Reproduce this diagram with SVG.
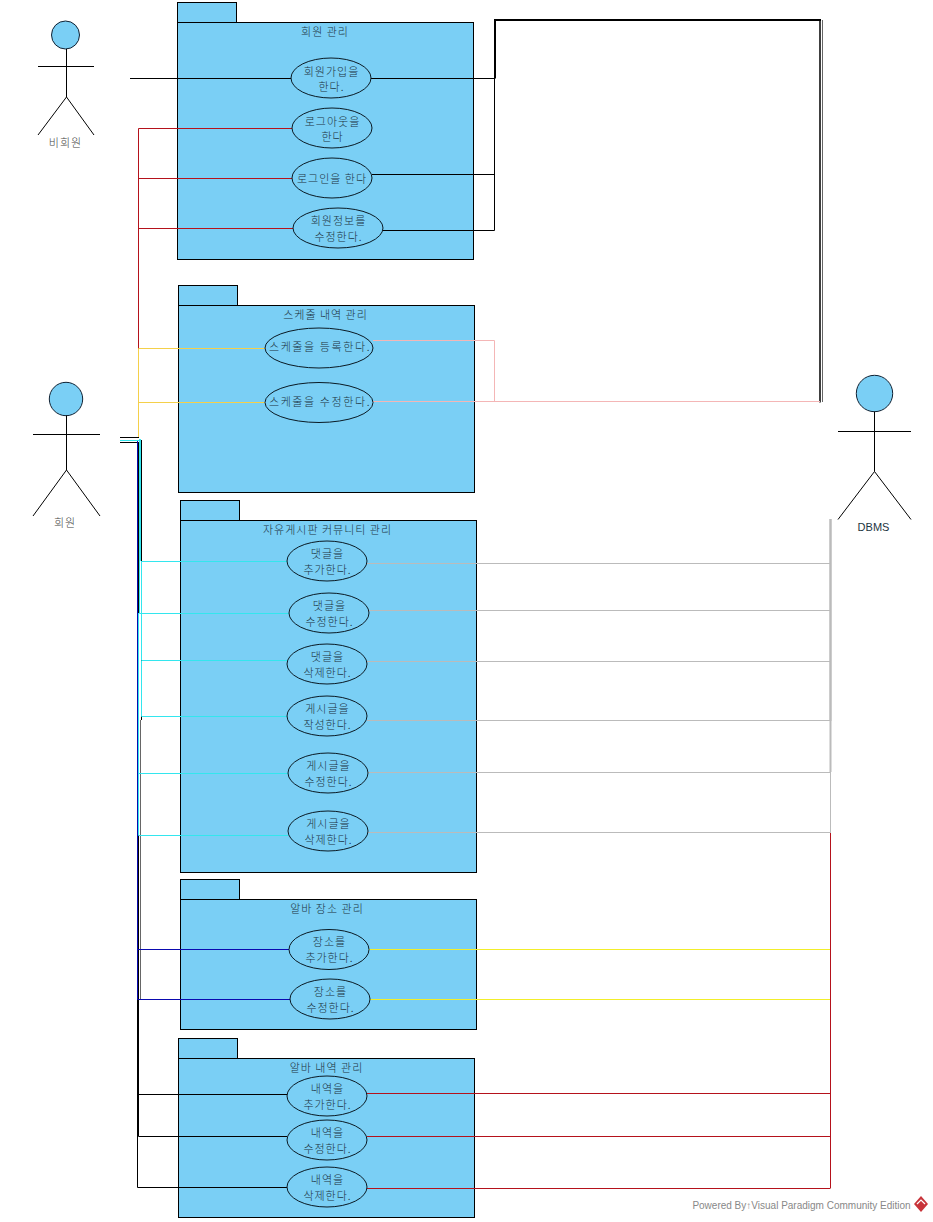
<svg xmlns="http://www.w3.org/2000/svg" width="933" height="1222" viewBox="0 0 933 1222">
<style>
text{font-family:"Noto Sans CJK KR","Liberation Sans",sans-serif;font-size:11px;font-weight:300;fill:#1c3442;text-anchor:middle;letter-spacing:1px}
.p{fill:#7ACFF5;stroke:#000;stroke-width:1}
.u{fill:#7ACFF5;stroke:#0a1a24;stroke-width:1}
.a{fill:none;stroke:#000;stroke-width:1}
.h{fill:#7ACFF5;stroke:#123;stroke-width:1}
.c{fill:none;stroke-width:1}
.k{stroke:#000}.r{stroke:#b5121b}.y{stroke:#f5d04a}.q{stroke:#f4b6b6}.t{stroke:#33e6ee}.g{stroke:#bbb}.b{stroke:#0a0ab0}.l{stroke:#f2ee2a}
.w{letter-spacing:1.6px}
.n{letter-spacing:0;font-family:"Liberation Sans",sans-serif}
.o{fill:#444}
</style>
<rect width="933" height="1222" fill="#fff"/>
<g id="pkg1"><rect class="p" x="177.500" y="2.500" width="59" height="20"/><rect class="p" x="177.500" y="22.500" width="296" height="237"/><text x="325" y="35.500">회원 관리</text></g>
<g id="pkg2"><rect class="p" x="178.500" y="285.500" width="59" height="20"/><rect class="p" x="178.500" y="305.500" width="296" height="187"/><text x="325.500" y="318.500">스케줄 내역 관리</text></g>
<g id="pkg3"><rect class="p" x="180.500" y="500.500" width="59" height="20"/><rect class="p" x="180.500" y="520.500" width="296" height="352"/><text x="327.500" y="533.500">자유게시판 커뮤니티 관리</text></g>
<g id="pkg4"><rect class="p" x="180.500" y="879.500" width="59" height="20"/><rect class="p" x="180.500" y="899.500" width="296" height="130"/><text x="327" y="912.500">알바 장소 관리</text></g>
<g id="pkg5"><rect class="p" x="178.500" y="1038.500" width="59" height="20"/><rect class="p" x="178.500" y="1058.500" width="296" height="159"/><text x="326.500" y="1071.500">알바 내역 관리</text></g>
<g id="connectors">
<path class="c k" d="M130 78.500H291"/>
<path class="c r" d="M138.500 437V128.500H292M138.500 178.500H292M138.500 228.500H293"/>
<path class="c y" d="M138.500 437V348.500H265M138.500 402.500H265"/>
<path class="c k" d="M120 437.500H139M120 442.500H139"/>
<path class="c k" d="M141.500 440V720"/>
<path class="c" stroke="#666" d="M140.500 720V1000"/>
<path class="c k" d="M138.500 442V1136.500H287M138.500 1094.500H287"/>
<path class="c k" d="M137.500 999V1187.500H287"/>
<path class="c b" d="M137.500 440V999.500H290M137.500 949.500H289"/>
<path class="t" fill="none" stroke-width="2" d="M140 439V561"/>
<path class="c t" d="M120 440.500H140M141.500 561.500H287M139.500 500V613.500H289M141.500 561V660.500H287M138.500 613V680M141.500 661V716.500H287M138.500 680V835.500H288M138.500 773.500H288"/>
<path class="c k" d="M371 78.500H495M372 174.500H494.500V78M383 230.500H494.500V174"/>
<path class="k" fill="none" stroke-width="2" d="M495 78.500V20H821"/>
<path class="c" stroke="#666" d="M822.500 20V402"/>
<path class="k" fill="none" stroke-width="1.500" d="M820 20V402.500"/>
<path class="c q" d="M373 340.500H494.500V401M373 401.500H820"/>
<path class="g" fill="none" stroke-width="2.500" d="M830.500 519V721"/>
<path class="g" fill="none" stroke-width="2" d="M830.500 721V772"/>
<path class="c g" d="M830.500 772V833M367 563.500H830M369 610.500H830M367 661.500H830M367 720.500H830M368 772.500H830M368 832.500H830"/>
<path class="c r" d="M830.500 833V1188.500M367 1093.500H830M367 1136.500H830M367 1188.500H830"/>
<path class="c l" d="M369 949.500H830M370 999.500H830"/>
</g>
<g id="uc1"><ellipse class="u" cx="331" cy="78" rx="40" ry="20"/><text x="331.500" y="75.500">회원가입을</text><text x="331.500" y="90.500">한다.</text></g>
<g id="uc2"><ellipse class="u" cx="332" cy="128" rx="40" ry="20"/><text x="332.500" y="125.500">로그아웃을</text><text x="332.500" y="140.500">한다</text></g>
<g id="uc3"><ellipse class="u" cx="332" cy="178" rx="40" ry="20"/><text x="332" y="183">로그인을 한다</text></g>
<g id="uc4"><ellipse class="u" cx="338" cy="228" rx="45" ry="20"/><text x="338.500" y="224.500">회원정보를</text><text x="338.500" y="240.500">수정한다.</text></g>
<g id="uc5"><ellipse class="u" cx="319" cy="348" rx="54" ry="20"/><text class="w" x="320" y="351">스케줄을 등록한다.</text></g>
<g id="uc6"><ellipse class="u" cx="319" cy="402.500" rx="54" ry="20"/><text class="w" x="320" y="406">스케줄을 수정한다.</text></g>
<g id="uc7"><ellipse class="u" cx="327" cy="561" rx="40" ry="20"/><text x="327.500" y="557.500">댓글을</text><text x="327.500" y="573.500">추가한다.</text></g>
<g id="uc8"><ellipse class="u" cx="329" cy="613" rx="40" ry="20"/><text x="329.500" y="609.500">댓글을</text><text x="329.500" y="625.500">수정한다.</text></g>
<g id="uc9"><ellipse class="u" cx="327" cy="664" rx="40" ry="20"/><text x="327.500" y="660.500">댓글을</text><text x="327.500" y="676.500">삭제한다.</text></g>
<g id="uc10"><ellipse class="u" cx="327" cy="716" rx="40" ry="20"/><text x="327.500" y="712.500">게시글을</text><text x="327.500" y="728.500">작성한다.</text></g>
<g id="uc11"><ellipse class="u" cx="328" cy="773" rx="40" ry="20"/><text x="328.500" y="769.500">게시글을</text><text x="328.500" y="785.500">수정한다.</text></g>
<g id="uc12"><ellipse class="u" cx="328" cy="831" rx="40" ry="20"/><text x="328.500" y="827.500">게시글을</text><text x="328.500" y="843.500">삭제한다.</text></g>
<g id="uc13"><ellipse class="u" cx="329" cy="949.500" rx="40" ry="20"/><text x="329.500" y="945.500">장소를</text><text x="329.500" y="961.500">추가한다.</text></g>
<g id="uc14"><ellipse class="u" cx="330" cy="999" rx="40" ry="20"/><text x="330.500" y="995.500">장소를</text><text x="330.500" y="1011.500">수정한다.</text></g>
<g id="uc15"><ellipse class="u" cx="327" cy="1096" rx="40" ry="20"/><text x="327.500" y="1092.500">내역을</text><text x="327.500" y="1108.500">추가한다.</text></g>
<g id="uc16"><ellipse class="u" cx="327" cy="1140" rx="40" ry="20"/><text x="327.500" y="1136.500">내역을</text><text x="327.500" y="1152.500">수정한다.</text></g>
<g id="uc17"><ellipse class="u" cx="327" cy="1187" rx="40" ry="20"/><text x="327.500" y="1183.500">내역을</text><text x="327.500" y="1199.500">삭제한다.</text></g>
<g id="actor1"><circle class="h" cx="65.500" cy="35" r="14"/><path class="a" d="M66.500 49V97M38 66.500H94M66.500 97L38 135M66.500 97L94 135"/><text class="o" x="65.500" y="147">비회원</text></g>
<g id="actor2"><circle class="h" cx="66" cy="399" r="16.700"/><path class="a" d="M66.500 415.500V470M33 434.500H100M66.500 470L33 516M66.500 470L100 516"/><text class="o" x="65" y="527">회원</text></g>
<g id="actor3"><circle class="h" cx="874.500" cy="393.500" r="18.200"/><path class="a" d="M874.500 411.500V471.500M838 431.500H911M874.500 471.500L838 519.500M874.500 471.500L911 519.500"/><text class="n" x="873.500" y="531">DBMS</text></g>
<g id="watermark"><text class="n" x="801.500" y="1209" style="font-size:10px;fill:#888">Powered By↑Visual Paradigm Community Edition</text><polygon points="921,1196 928,1204 921,1212 914,1204" fill="#c8343a"/><path d="M917 1204L921 1200L925 1204" fill="none" stroke="#fff" stroke-width="1.200"/></g>
</svg>
